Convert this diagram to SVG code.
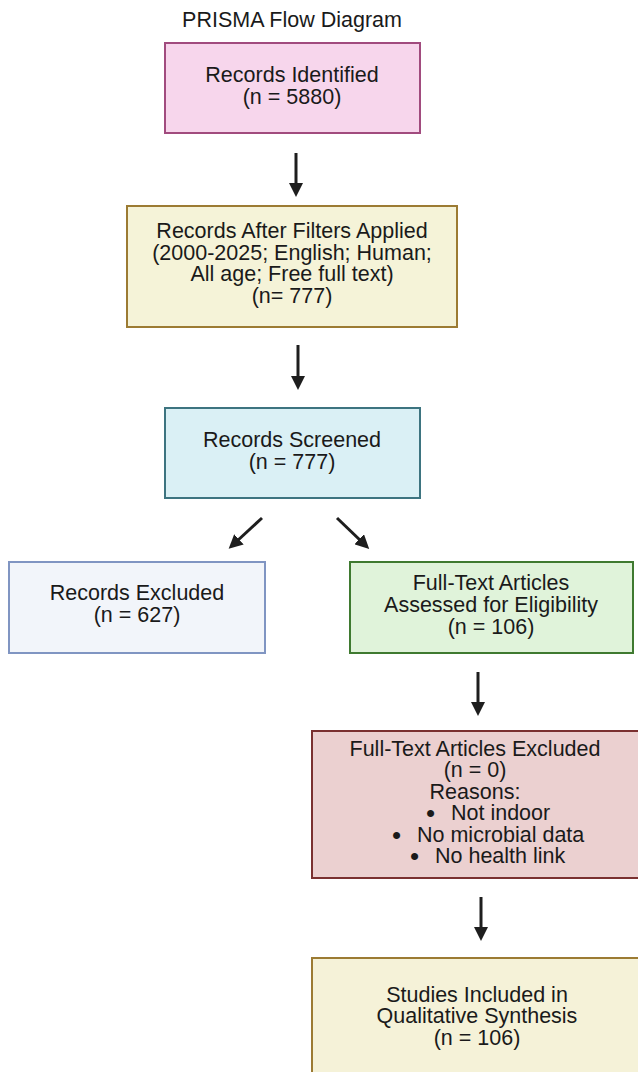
<svg xmlns="http://www.w3.org/2000/svg" width="638" height="1072" viewBox="0 0 638 1072">
<style>
text{font-family:"Liberation Sans",Arial,sans-serif;font-size:21.5px;fill:#1a1a1a}
.c{text-anchor:middle}
.b{font-size:26px}
.box{stroke-width:2}
.arr{stroke:#1e1e1e;stroke-width:3;fill:none;marker-end:url(#ah)}
</style>
<defs>
<marker id="ah" viewBox="0 0 14 14" refX="4" refY="7" markerWidth="14" markerHeight="14" markerUnits="userSpaceOnUse" orient="auto">
<path d="M0,0 L14,7 L0,14 z" fill="#1e1e1e"/>
</marker>
</defs>
<rect width="638" height="1072" fill="#ffffff"/>
<text id="title" class="c" x="292" y="27">PRISMA Flow Diagram</text>
<g id="connectors">
<line class="arr" x1="296" y1="153" x2="296" y2="187"/>
<line class="arr" x1="298" y1="345" x2="298" y2="380"/>
<line class="arr" x1="262" y1="518" x2="236" y2="542"/>
<line class="arr" x1="337" y1="518" x2="362" y2="542"/>
<line class="arr" x1="478" y1="672" x2="478" y2="706"/>
<line class="arr" x1="481" y1="897" x2="481" y2="931"/>
</g>
<g id="identified">
<rect class="box" x="165" y="43" width="255" height="90" fill="#f7d6ec" stroke="#a14b7e"/>
<text class="c" x="292" y="82">Records Identified</text>
<text class="c" x="292" y="104">(n = 5880)</text>
</g>
<g id="filtered">
<rect class="box" x="127" y="206" width="330" height="121" fill="#f5f3d8" stroke="#9c7b33"/>
<text class="c" x="292" y="238">Records After Filters Applied</text>
<text class="c" x="292" y="260">(2000-2025; English; Human;</text>
<text class="c" x="292" y="281">All age; Free full text)</text>
<text class="c" x="292" y="303">(n= 777)</text>
</g>
<g id="screened">
<rect class="box" x="165" y="408" width="255" height="90" fill="#daf0f5" stroke="#3d7480"/>
<text class="c" x="292" y="447">Records Screened</text>
<text class="c" x="292" y="469">(n = 777)</text>
</g>
<g id="excluded">
<rect class="box" x="9" y="562" width="256" height="91" fill="#f2f5fa" stroke="#8095c2"/>
<text class="c" x="137" y="600">Records Excluded</text>
<text class="c" x="137" y="622">(n = 627)</text>
</g>
<g id="assessed">
<rect class="box" x="350" y="562" width="283" height="91" fill="#e0f3da" stroke="#3f7a30"/>
<text class="c" x="491" y="590">Full-Text Articles</text>
<text class="c" x="491" y="612">Assessed for Eligibility</text>
<text class="c" x="491" y="634">(n = 106)</text>
</g>
<g id="ftexcluded">
<rect class="box" x="312" y="731" width="340" height="147" fill="#ebd0d0" stroke="#7a3030"/>
<text class="c" x="475" y="756">Full-Text Articles Excluded</text>
<text class="c" x="475" y="777">(n = 0)</text>
<text class="c" x="475" y="799">Reasons:</text>
<text class="c b" x="430.5" y="822">•</text>
<text x="451" y="820">Not indoor</text>
<text class="c b" x="396.5" y="844">•</text>
<text x="417" y="842">No microbial data</text>
<text class="c b" x="414.5" y="865">•</text>
<text x="435" y="863">No health link</text>
</g>
<g id="included">
<rect class="box" x="312" y="958" width="340" height="130" fill="#f5f2d8" stroke="#9c7b33"/>
<text class="c" x="477" y="1002">Studies Included in</text>
<text class="c" x="477" y="1023">Qualitative Synthesis</text>
<text class="c" x="477" y="1045">(n = 106)</text>
</g>
</svg>
